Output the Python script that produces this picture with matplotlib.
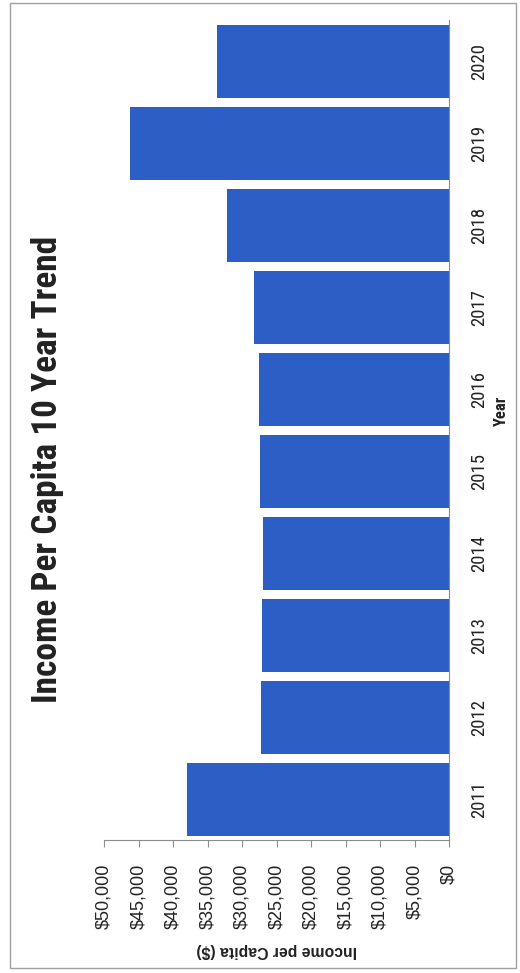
import matplotlib
matplotlib.use("Agg")
import matplotlib.pyplot as plt
from matplotlib import font_manager
from matplotlib.patches import Rectangle

years = ["2011", "2012", "2013", "2014", "2015", "2016", "2017", "2018", "2019", "2020"]
income = [37970, 27250, 27100, 26960, 27390, 27540, 28260, 32170, 46230, 33620]
value_ticks = [0, 5000, 10000, 15000, 20000, 25000, 30000, 35000, 40000, 45000, 50000]
value_labels = ["${:,}".format(v) for v in value_ticks]

bar_color = "#2d5ec6"
text_color = "#222222"
axis_color = "#8c8c8c"

# pick a narrow face if one is around, the reference uses a Calibri-like font
installed = {f.name for f in font_manager.fontManager.ttflist}
narrow = "Lato"
for name in ["Liberation Sans Narrow", "Roboto Condensed", "Open Sans Condensed", "Lato"]:
    if name in installed:
        narrow = name
        break

fig = plt.figure(figsize=(5.2, 9.73), dpi=100)
fig.patch.set_facecolor("white")

# the whole chart is turned 90 degrees, so draw it as horizontal bars
ax = fig.add_axes([0.2, 0.1362, 0.6635, 0.843])
ax.barh(range(len(years)), income, height=0.89, color=bar_color)
ax.set_xlim(50000, 0)
ax.set_ylim(-0.5, len(years) - 0.5)

ax.set_xticks(value_ticks)
ax.set_xticklabels(value_labels, rotation=90, fontsize=13,
                   family="Liberation Sans", color=text_color)
ax.tick_params(axis="x", length=5, width=0.8, color=axis_color, pad=12)

ax.yaxis.tick_right()
ax.set_yticks(range(len(years)))
ax.set_yticklabels(years, rotation=90, va="center", fontsize=13.5,
                   family=narrow, color=text_color)
ax.tick_params(axis="y", length=0, pad=15)

for side in ["left", "top"]:
    ax.spines[side].set_visible(False)
for side in ["right", "bottom"]:
    ax.spines[side].set_color(axis_color)
    ax.spines[side].set_linewidth(0.8)

# titles
fig.text(0.092, 0.518, "Income Per Capita 10 Year Trend", rotation=90,
         ha="center", va="center", fontsize=25.5, fontweight="bold",
         family=narrow, color=text_color)
fig.text(0.965, 0.578, "Year", rotation=90, ha="center", va="center",
         fontsize=12, fontweight="bold", family=narrow, color=text_color)
fig.text(0.533, 0.0236, "Income per Capita ($)", rotation=180,
         ha="center", va="center", fontsize=11.3, fontweight="bold",
         family="Liberation Sans", color=text_color)

# outer frame
fig.patches.append(Rectangle((0.019, 0.005), 0.973, 0.992,
                             transform=fig.transFigure, fill=False,
                             edgecolor="#a0a0a0", linewidth=1))

fig.savefig("out.png", dpi=100)
